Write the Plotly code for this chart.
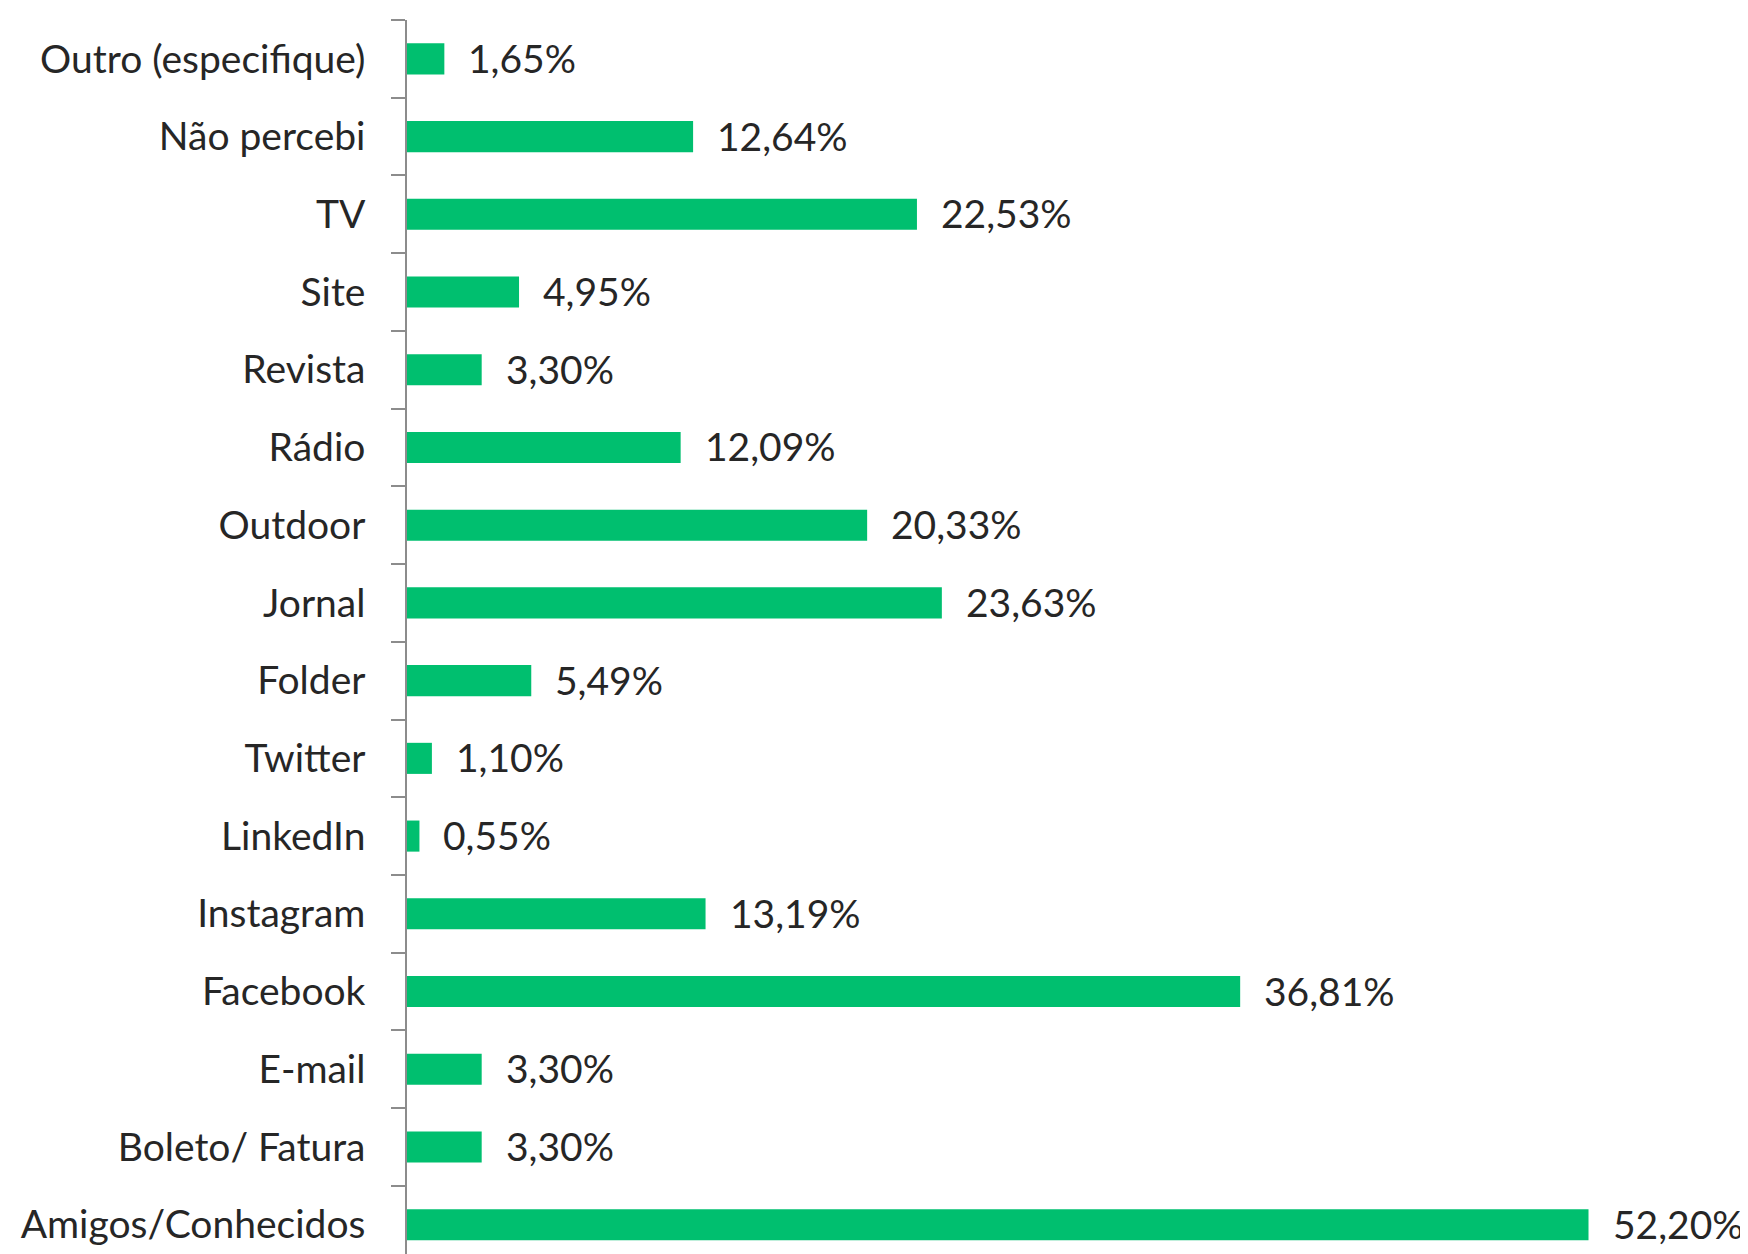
import plotly.graph_objects as go

categories = ["Outro (especifique)", "Não percebi", "TV", "Site", "Revista", "Rádio",
              "Outdoor", "Jornal", "Folder", "Twitter", "LinkedIn", "Instagram",
              "Facebook", "E-mail", "Boleto/ Fatura", "Amigos/Conhecidos"]
values = [1.65, 12.64, 22.53, 4.95, 3.30, 12.09, 20.33, 23.63, 5.49, 1.10, 0.55,
          13.19, 36.81, 3.30, 3.30, 52.20]
labels = [f"{v:.2f}%".replace(".", ",") for v in values]

FONT = "Lato"
FS = 39
fig = go.Figure()
fig.add_trace(go.Bar(
    x=values, y=categories, orientation="h",
    marker=dict(color="#00BF6F", line=dict(width=0)),
    width=0.4, hoverinfo="skip",
))
for c, v, t in zip(categories, values, labels):
    fig.add_annotation(x=v, y=c, text=t, showarrow=False, xanchor="left",
                       xshift=22, yshift=1,
                       font=dict(family=FONT, size=FS, color="#262626"))

fig.update_layout(
    width=1748, height=1254,
    margin=dict(l=399, r=0, t=12, b=0),
    paper_bgcolor="white", plot_bgcolor="white",
    showlegend=False,
    font=dict(family=FONT, size=FS, color="#262626"),
)
fig.update_xaxes(range=[0, 59.6], visible=False, fixedrange=True)
fig.update_yaxes(
    categoryorder="array", categoryarray=categories,
    range=[15.48, -0.5],
    showline=True, linecolor="#8c8c8c", linewidth=1.5,
    ticks="outside", tickson="boundaries", ticklen=14, tickcolor="#8c8c8c", tickwidth=1.5,
    ticklabelstandoff=32,
    showgrid=False, zeroline=False,
    tickfont=dict(family=FONT, size=FS, color="#262626"),
)
fig.write_html("out.html")
